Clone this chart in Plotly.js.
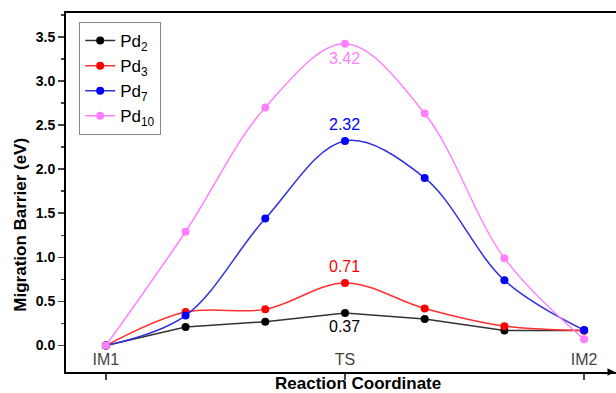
<!DOCTYPE html>
<html><head><meta charset="utf-8">
<script src="https://cdn.plot.ly/plotly-3.0.1.min.js"></script>
<style>html,body{margin:0;padding:0;background:#fff}#c{width:616px;height:393px}</style>
</head><body><div id="c"></div>
<script>
const steps = [0, 1, 2, 3, 4, 5, 6];
const tickLabels = ['IM1', 'TS', 'IM2'];
const tickPos = [0, 3, 6];
const pd2 = [0, 0.21, 0.27, 0.37, 0.30, 0.17, 0.17];
const pd3 = [0, 0.38, 0.41, 0.71, 0.42, 0.22, 0.17];
const pd7 = [0, 0.34, 1.44, 2.32, 1.90, 0.74, 0.175];
const pd10 = [0, 1.29, 2.70, 3.42, 2.63, 0.99, 0.07];
const seriesNames = ['Pd<sub>2</sub>', 'Pd<sub>3</sub>', 'Pd<sub>7</sub>', 'Pd<sub>10</sub>'];
const peakLabels = ['0.37', '0.71', '2.32', '3.42'];

const FONT = 'Liberation Sans, Arial';
const colors = ['#000000', '#ff0000', '#0000ff', '#ff80ff'];
const lineColors = ['#333333', '#ff3030', '#3030e0', '#ff80ff'];
const shapes = ['linear', 'spline', 'spline', 'spline'];
const all = [pd2, pd3, pd7, pd10];
const data = all.map((ys, i) => ({
  x: steps, y: ys, type: 'scatter', mode: 'lines+markers', name: seriesNames[i],
  line: {color: lineColors[i], width: 1.5, shape: shapes[i]},
  marker: {color: colors[i], size: 8}
}));
const yshift = [-14, 16, 16, -15];
const annotations = all.map((ys, i) => ({
  x: steps[3], y: ys[3], xref: 'x', yref: 'y', text: peakLabels[i], showarrow: false,
  yshift: yshift[i], font: {family: FONT, size: 16, color: colors[i]}
}));
annotations.push({
  xref: 'paper', yref: 'paper', x: -0.082, y: 0.41, xanchor: 'center', yanchor: 'middle',
  textangle: -90, showarrow: false,
  text: '<b>Migration Barrier (eV)</b>', font: {family: FONT, size: 17, color: '#000'}
});
annotations.push({
  xref: 'paper', yref: 'paper', x: 0.531, y: -0.033, xanchor: 'center', yanchor: 'middle', showarrow: false,
  text: '<b>Reaction Coordinate</b>', font: {family: FONT, size: 17, color: '#000'}
});
annotations.push({
  xref: 'paper', yref: 'paper', x: 1, y: 0, ax: -8, ay: 0, showarrow: true, text: '',
  arrowhead: 2, arrowsize: 1, arrowwidth: 1.5, arrowcolor: '#000'
});

const layout = {
  width: 616, height: 393,
  margin: {l: 66, r: 0, t: 13, b: 21},
  paper_bgcolor: '#fff', plot_bgcolor: '#fff',
  font: {family: FONT, color: '#000'},
  showlegend: true,
  legend: {x: 0.024, y: 0.975, xanchor: 'left', yanchor: 'top', bordercolor: '#888', borderwidth: 1,
    font: {size: 17}, tracegroupgap: 0, bgcolor: '#fff'},
  xaxis: {range: [-0.5, 6.4], tickvals: tickPos, ticktext: tickLabels, ticks: 'outside', ticklen: 6,
    tickwidth: 1.5, showline: true, linewidth: 2, linecolor: '#000', mirror: true, showgrid: false,
    zeroline: false, ticklabelposition: 'inside', ticklabelstandoff: 4, tickfont: {size: 16}},
  yaxis: {range: [-0.3, 3.77], dtick: 0.5, tick0: 0, tickformat: '.1f', ticks: 'outside', ticklen: 6,
    tickwidth: 1.5, showline: true, linewidth: 2, linecolor: '#000', showgrid: false, zeroline: false,
    tickfont: {size: 14, weight: 'bold'},
    minor: {dtick: 0.25, ticks: 'outside', ticklen: 3, tickwidth: 1.5, showgrid: false}},
  annotations: annotations
};
Plotly.newPlot('c', data, layout, {displayModeBar: false, staticPlot: true});
</script></body></html>
